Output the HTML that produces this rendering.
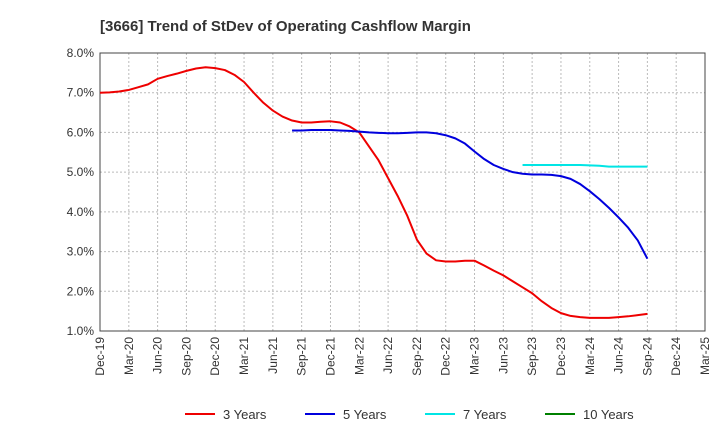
<!DOCTYPE html>
<html><head><meta charset="utf-8"><style>
body{margin:0;background:#fff;font-family:"Liberation Sans",sans-serif}
</style></head><body>
<svg id="chart" width="720" height="440" xmlns="http://www.w3.org/2000/svg">
<text x="100" y="31" font-size="15" font-weight="bold" fill="#333">[3666]  Trend of StDev of Operating Cashflow Margin</text>
<g id="grid"></g><g id="axes"></g><g id="series"></g><g id="legend"></g>
</svg>
<script>
const xLabels=["Dec-19","Mar-20","Jun-20","Sep-20","Dec-20","Mar-21","Jun-21","Sep-21","Dec-21","Mar-22","Jun-22","Sep-22","Dec-22","Mar-23","Jun-23","Sep-23","Dec-23","Mar-24","Jun-24","Sep-24","Dec-24","Mar-25"];
const yTicks=[1,2,3,4,5,6,7,8];
const s3=[7.00,7.01,7.03,7.07,7.14,7.21,7.35,7.42,7.48,7.55,7.61,7.64,7.62,7.57,7.45,7.27,7.0,6.75,6.55,6.4,6.3,6.25,6.25,6.27,6.28,6.25,6.15,6.0,5.65,5.3,4.85,4.4,3.9,3.3,2.95,2.78,2.75,2.75,2.77,2.77,2.65,2.52,2.4,2.25,2.1,1.95,1.75,1.58,1.45,1.38,1.35,1.33,1.33,1.33,1.35,1.37,1.4,1.43];
const s5=[6.05,6.05,6.06,6.06,6.06,6.05,6.04,6.02,6.0,5.99,5.98,5.98,5.99,6.0,6.0,5.98,5.93,5.85,5.72,5.52,5.33,5.18,5.08,5.0,4.96,4.94,4.94,4.93,4.9,4.83,4.7,4.52,4.32,4.1,3.86,3.6,3.28,2.82];
const s7=[5.18,5.18,5.18,5.18,5.18,5.18,5.18,5.17,5.16,5.14,5.14,5.14,5.14,5.14];
const s10=[];
const start5=20, start7=44;
const X0=100,X1=705,Y0=331,Y1=53;
const xm=m=>X0+(X1-X0)*m/63;
const ys=v=>Y0-(v-1)/7*(Y0-Y1);
const NS="http://www.w3.org/2000/svg";
function mk(t,a,p){const e=document.createElementNS(NS,t);for(const k in a)e.setAttribute(k,a[k]);p.appendChild(e);return e;}
const grid=document.getElementById('grid'),axes=document.getElementById('axes'),ser=document.getElementById('series'),leg=document.getElementById('legend');
yTicks.forEach(v=>{
 const l=mk('line',{x1:X0,x2:X1,y1:ys(v),y2:ys(v),stroke:'#bbb','stroke-dasharray':'2,2'},grid);
 
 
 const t=mk('text',{x:X0-6,y:ys(v)+4,'text-anchor':'end','font-size':12,fill:'#333'},axes);
 t.textContent=v.toFixed(1)+'%';
 
 
});
xLabels.forEach((lb,i)=>{
 const x=X0+(X1-X0)*i/21;
 if(i>0&&i<21){const l=mk('line',{x1:x,x2:x,y1:Y1,y2:Y0,stroke:'#bbb','stroke-dasharray':'2,2'},grid);
 
 }
 const t=mk('text',{transform:`translate(${x+4},${Y0+6}) rotate(-90)`,'text-anchor':'end','font-size':12,fill:'#333'},axes);
 t.textContent=lb;
 
 
});
const fr=mk('rect',{x:X0,y:Y1,width:X1-X0,height:Y0-Y1,fill:'none',stroke:'#444'},axes);


function line(d,st,c,n){if(!d.length)return;const p=mk('polyline',{points:d.map((v,i)=>xm(st+i)+','+ys(v)).join(' '),fill:'none',stroke:c,'stroke-width':2,'stroke-linejoin':'round'},ser);
 
 }
line(s3,0,'#e00','line-3-years');line(s5,start5,'#0000dd','line-5-years');line(s7,start7,'#00e5e5','line-7-years');line(s10,0,'#008000','line-10-years');
[['3 Years','#e00',185],['5 Years','#0000dd',305],['7 Years','#00e5e5',425],['10 Years','#008000',545]].forEach(([n,c,x])=>{
 const g=mk('g',{},leg);
 
 
 mk('line',{x1:x,x2:x+30,y1:414,y2:414,stroke:c,'stroke-width':2},g);
 const t=mk('text',{x:x+38,y:419,'font-size':13,fill:'#333'},g);t.textContent=n;
});
</script>
</body></html>
